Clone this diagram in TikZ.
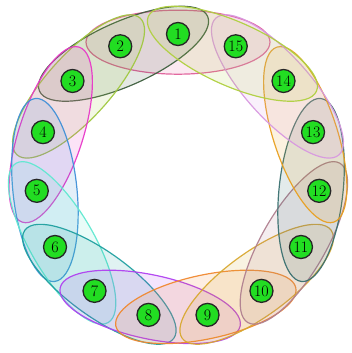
\documentclass[tikz,border=0pt]{standalone}
\usepackage{fontspec}
\usepackage{xcolor}
\usepackage{tikz}
\usetikzlibrary{calc}

\definecolor{hpink}{HTML}{E0609A}
\definecolor{hdkgreen}{HTML}{3F5F3F}
\definecolor{hlime}{HTML}{A0C840}
\definecolor{hmagenta}{HTML}{E838C8}
\definecolor{hblue}{HTML}{4090D8}
\definecolor{haqua}{HTML}{60E8D0}
\definecolor{hteal}{HTML}{20A0A0}
\definecolor{hpurple}{HTML}{B040F0}
\definecolor{horange}{HTML}{F08830}
\definecolor{hgold}{HTML}{D8A830}
\definecolor{hrosy}{HTML}{B08090}
\definecolor{hslate}{HTML}{3A7070}
\definecolor{hamber}{HTML}{E8A020}
\definecolor{hplum}{HTML}{D898E0}
\definecolor{hyellow}{HTML}{B0D040}
\definecolor{vgreen}{HTML}{22DD22}

\begin{document}
\begin{tikzpicture}[
    x=1pt, y=1pt,
    vertex/.style={circle, draw=black!85, line width=1.3pt,
        fill=vgreen, minimum size=23pt, inner sep=0pt,
        font=\fontsize{16}{16}\selectfont},
    hedge/.style={line width=1.2pt, fill opacity=0.14,
        draw opacity=0.95},
]
\useasboundingbox (-178,-177) rectangle (174,176);

% ── Vertices on the ring ──
\foreach \i in {1,...,15}
    \coordinate (p\i) at ({90+(\i-1)*24}:142);

% ── Hyperedges: three consecutive vertices each ──
\foreach \m/\col in {1/hpink, 2/hdkgreen, 3/hlime, 4/hmagenta,
        5/hblue, 6/haqua, 7/hteal, 8/hpurple, 9/horange,
        10/hgold, 11/hrosy, 12/hslate, 13/hamber, 14/hplum,
        15/hyellow} {
    \pgfmathtruncatemacro{\prev}{mod(\m+13,15)+1}
    \pgfmathtruncatemacro{\next}{mod(\m,15)+1}
    \pgfmathsetmacro{\ang}{90+(\m-1)*24}
    \draw[hedge, draw=\col, fill=\col,
        shift={(barycentric cs:p\prev=1,p\m=1,p\next=1)},
        rotate=\ang]
        (0,0) ellipse (32 and 92);
}

% ── Vertex labels ──
\foreach \i in {1,...,15}
    \node[vertex] (v\i) at (p\i) {\i};

\end{tikzpicture}
\end{document}
